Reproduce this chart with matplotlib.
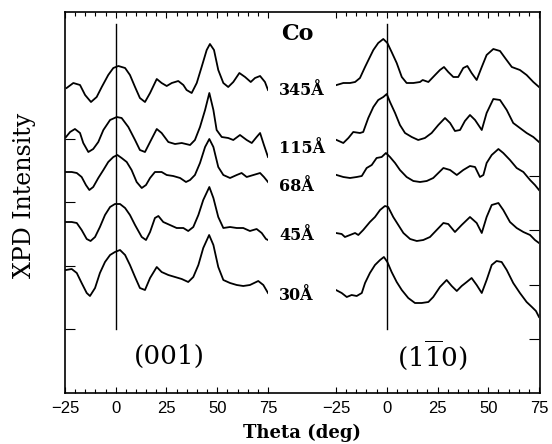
import matplotlib
matplotlib.use("Agg")
import matplotlib.pyplot as plt
from matplotlib.ticker import MultipleLocator, FixedLocator, NullFormatter

plt.rcParams['mathtext.fontset'] = 'dejavuserif'

# film thicknesses, top to bottom
labels = ['345Å', '115Å', '68Å', '45Å', '30Å']

# (001) scans, intensity in arbitrary (offset) units
th_001_345 = [-24.2, -20.9, -17.6, -15.1, -12.2, -9.4, -6.9, -3.7, -1.2, 1.3, 4.6, 7.0, 9.5, 11.9, 14.4, 16.9,
              20.2, 22.6, 25.1, 27.6, 30.8, 33.3, 34.9, 37.4, 39.9, 42.3, 44.8, 46.4, 48.4, 50.5, 53.0, 55.4,
              57.9, 60.9, 63.7, 66.5, 68.6, 71.1, 73.5, 75.0]
xpd_001_345 = [305, 310, 308, 298, 291, 296, 306, 318, 325, 327, 325, 318, 306, 295, 291, 300,
               314, 310, 307, 310, 312, 308, 303, 300, 310, 326, 343, 349, 343, 323, 310, 306,
               311, 320, 316, 311, 315, 317, 311, 303]

th_001_115 = [-24.5, -22.5, -20.1, -17.6, -16.0, -13.5, -11.1, -8.6, -6.1, -2.8, 0.5, 2.9, 6.2, 9.5, 11.9, 14.4,
              16.9, 20.2, 22.6, 25.9, 29.2, 32.5, 36.6, 39.0, 41.5, 44.0, 46.1, 48.1, 49.7, 52.2, 55.4, 57.9,
              61.2, 64.5, 67.0, 69.4, 71.1, 73.0, 75.0]
xpd_001_115 = [256, 261, 264, 260, 250, 241, 244, 251, 263, 273, 276, 275, 266, 253, 243, 241,
               251, 264, 260, 251, 249, 250, 248, 253, 266, 283, 300, 283, 263, 256, 255, 253,
               258, 253, 250, 256, 260, 248, 236]

th_001_68 = [-24.5, -21.7, -19.2, -16.8, -14.7, -13.0, -11.1, -8.6, -6.1, -3.7, -1.2, 0.8, 2.9, 5.4, 7.8, 10.3,
             12.8, 14.9, 16.9, 19.3, 22.6, 25.1, 28.3, 31.7, 34.6, 36.6, 39.0, 41.5, 44.0, 46.1, 48.1, 50.5,
             53.0, 56.3, 59.6, 62.0, 64.5, 67.8, 71.1, 73.0, 75.0]
xpd_001_68 = [221, 221, 220, 216, 208, 203, 206, 215, 223, 231, 236, 238, 235, 231, 223, 211,
              205, 208, 215, 221, 221, 218, 217, 215, 211, 213, 218, 230, 246, 254, 246, 226,
              218, 215, 218, 220, 216, 218, 220, 216, 211]

th_001_45 = [-24.5, -21.7, -19.2, -16.8, -14.3, -12.4, -10.2, -7.8, -5.3, -2.8, -0.4, 2.1, 4.6, 7.0, 9.5, 12.8,
             14.9, 16.9, 19.3, 21.0, 23.4, 26.7, 30.0, 33.3, 35.7, 38.2, 40.7, 43.1, 46.1, 48.1, 50.5, 53.0,
             56.3, 59.6, 62.8, 66.1, 69.4, 71.9, 74.0, 75.0]
xpd_001_45 = [171, 171, 170, 163, 154, 152, 156, 166, 178, 186, 189, 189, 185, 178, 168, 156,
              153, 161, 175, 177, 171, 168, 165, 165, 162, 166, 178, 193, 206, 195, 176, 165,
              166, 165, 165, 162, 164, 160, 154, 153]

th_001_30 = [-24.5, -21.7, -19.2, -16.8, -14.3, -12.7, -10.2, -7.8, -5.3, -2.8, -0.4, 2.1, 4.6, 7.0, 9.5, 11.9,
             14.4, 16.9, 20.2, 22.6, 25.9, 29.2, 32.5, 35.7, 38.2, 40.7, 43.1, 46.0, 48.1, 50.5, 53.0, 56.3,
             59.6, 62.8, 66.1, 70.2, 72.7, 75.0]
xpd_001_30 = [123, 124, 120, 110, 100, 97, 105, 120, 131, 138, 141, 143, 138, 128, 116, 105,
              103, 115, 126, 121, 118, 116, 114, 111, 116, 128, 145, 158, 148, 126, 113, 110,
              108, 107, 108, 112, 108, 100]

# (1-10) scans
th_110_345 = [-24.7, -21.4, -18.1, -15.6, -13.2, -10.7, -8.3, -6.6, -4.2, -1.7, 0.3, 2.4, 4.9, 7.4, 9.8, 13.1,
              16.4, 17.7, 20.5, 23.8, 26.2, 28.2, 30.3, 32.8, 35.2, 37.7, 39.7, 41.8, 44.3, 46.8, 49.2, 52.5,
              55.8, 58.3, 61.6, 65.6, 68.9, 72.2, 75.0]
xpd_110_345 = [308, 310, 310, 311, 315, 326, 336, 343, 350, 354, 350, 341, 330, 316, 310, 310,
               311, 313, 311, 318, 323, 326, 321, 316, 316, 325, 327, 320, 313, 326, 338, 344,
               342, 335, 326, 323, 318, 311, 306]

th_110_115 = [-24.7, -21.4, -18.9, -16.5, -13.2, -11.6, -9.1, -6.6, -4.2, -1.7, 0.0, 1.6, 4.1, 6.5, 9.0, 12.3,
              15.5, 18.8, 22.1, 25.4, 28.7, 31.2, 33.6, 36.1, 38.5, 41.0, 43.5, 46.8, 49.2, 52.5, 55.8, 59.1,
              62.3, 65.6, 68.9, 72.2, 75.0]
xpd_110_115 = [253, 250, 255, 261, 260, 261, 275, 286, 293, 296, 299, 291, 280, 268, 260, 256,
               253, 255, 260, 268, 275, 270, 262, 263, 272, 278, 273, 263, 280, 294, 293, 283,
               270, 265, 260, 256, 251]

th_110_68 = [-24.7, -21.4, -18.1, -14.8, -12.3, -9.9, -7.4, -5.0, -2.5, -0.4, 1.6, 4.1, 6.5, 9.8, 13.1, 16.4,
             19.7, 22.9, 25.4, 27.9, 31.2, 34.5, 37.7, 41.0, 43.5, 45.9, 47.6, 49.2, 51.7, 55.0, 57.4, 60.7,
             64.0, 67.3, 70.6, 73.0, 75.0]
xpd_110_68 = [218, 216, 215, 216, 217, 225, 228, 235, 236, 240, 236, 230, 223, 216, 212, 211,
              212, 215, 220, 225, 223, 218, 223, 227, 226, 216, 218, 230, 238, 244, 240, 233,
              225, 221, 213, 208, 203]

th_110_45 = [-25.0, -22.2, -20.6, -18.1, -15.6, -14.0, -11.6, -8.3, -5.8, -3.3, -0.9, 0.7, 3.2, 5.7, 8.2, 11.5,
             14.8, 18.0, 21.3, 24.6, 27.9, 30.3, 33.6, 36.9, 41.0, 44.3, 46.8, 49.2, 51.7, 55.0, 57.4, 60.7,
             64.0, 67.3, 70.6, 73.0, 75.0]
xpd_110_45 = [160, 159, 156, 158, 160, 158, 163, 171, 176, 183, 187, 186, 176, 168, 160, 154,
              152, 153, 156, 163, 170, 169, 161, 168, 176, 170, 160, 176, 188, 190, 183, 171,
              165, 161, 158, 153, 150]

th_110_30 = [-25.0, -22.2, -19.7, -17.3, -14.8, -12.3, -10.7, -8.3, -5.8, -3.3, -1.4, 0.3, 2.4, 4.9, 7.4, 10.6,
             13.9, 17.2, 20.5, 22.9, 26.2, 29.5, 32.0, 34.5, 36.9, 39.4, 41.8, 44.3, 46.8, 49.2, 51.7, 54.1,
             56.6, 59.1, 62.3, 65.6, 68.9, 71.5, 73.5, 75.0]
xpd_110_30 = [103, 100, 96, 98, 97, 100, 110, 120, 128, 133, 136, 131, 121, 111, 103, 95,
              90, 90, 91, 96, 106, 113, 107, 102, 107, 111, 115, 108, 100, 113, 128, 132,
              131, 123, 110, 100, 91, 86, 82, 76]

scans_001 = [(th_001_345, xpd_001_345), (th_001_115, xpd_001_115), (th_001_68, xpd_001_68),
             (th_001_45, xpd_001_45), (th_001_30, xpd_001_30)]
scans_110 = [(th_110_345, xpd_110_345), (th_110_115, xpd_110_115), (th_110_68, xpd_110_68),
             (th_110_45, xpd_110_45), (th_110_30, xpd_110_30)]

left_yticks = [64, 127, 191, 254]
right_yticks = [54, 108, 163, 217]

W, H = 552, 444
fig = plt.figure(figsize=(W / 100, H / 100), dpi=100)


def fx(px):
    return px / W


def fy(py):
    return 1 - py / H


y_bot, y_top = 393, 12
ymax = y_bot - y_top

# outer box
frame = fig.add_axes([fx(65), fy(y_bot), fx(540) - fx(65), fy(y_top) - fy(y_bot)])
frame.set_xticks([])
frame.set_yticks([])
for s in frame.spines.values():
    s.set_linewidth(1.2)


def make_panel(x0, x1, scans, yticks, yside):
    ax = fig.add_axes([fx(x0), fy(y_bot), fx(x1) - fx(x0), fy(y_top) - fy(y_bot)])
    ax.patch.set_visible(False)
    for s in ax.spines.values():
        s.set_visible(False)
    for th, val in scans:
        ax.plot(th, val, color='black', lw=1.3)
    ax.plot([0, 0], [64, 369], color='black', lw=1.0)
    ax.set_xlim(-25, 75)
    ax.set_ylim(0, ymax)
    ax.xaxis.set_major_locator(MultipleLocator(25))
    ax.xaxis.set_minor_locator(MultipleLocator(5))
    ax.tick_params(axis='x', which='both', direction='in', top=True, bottom=True, width=0.8,
                   labelsize=12, pad=6)
    ax.tick_params(axis='x', which='major', length=4.5)
    ax.tick_params(axis='x', which='minor', length=3)
    for lab in ax.get_xticklabels():
        lab.set_family('Liberation Sans')
    ax.yaxis.set_major_locator(FixedLocator(yticks))
    ax.yaxis.set_major_formatter(NullFormatter())
    ax.tick_params(axis='y', direction='in', length=7.5, width=0.8,
                   left=(yside == 'left'), right=(yside == 'right'))
    return ax


make_panel(65, 268, scans_001, left_yticks, 'left')
make_panel(336, 539, scans_110, right_yticks, 'right')

serif = 'DejaVu Serif'
fig.text(fx(297), fy(34), 'Co', family=serif, weight='bold', fontsize=16, ha='center', va='center')
label_base = [95, 153, 191, 240, 300]
for lab, py in zip(labels, label_base):
    fig.text(fx(279), fy(py), lab, family=serif, weight='bold', fontsize=11.5, ha='left', va='baseline')

fig.text(fx(169.5), fy(356), '(001)', family=serif, fontsize=19, ha='center', va='center')
fig.text(fx(432.5), fy(355), r'$(1\overline{1}0)$', fontsize=19, ha='center', va='center')

fig.text(fx(302), fy(433), 'Theta (deg)', family=serif, weight='bold', fontsize=13, ha='center', va='center')
fig.text(fx(25), fy(195), 'XPD Intensity', family=serif, fontsize=17, rotation=90, ha='center', va='center')

fig.savefig('out.png', dpi=100)
